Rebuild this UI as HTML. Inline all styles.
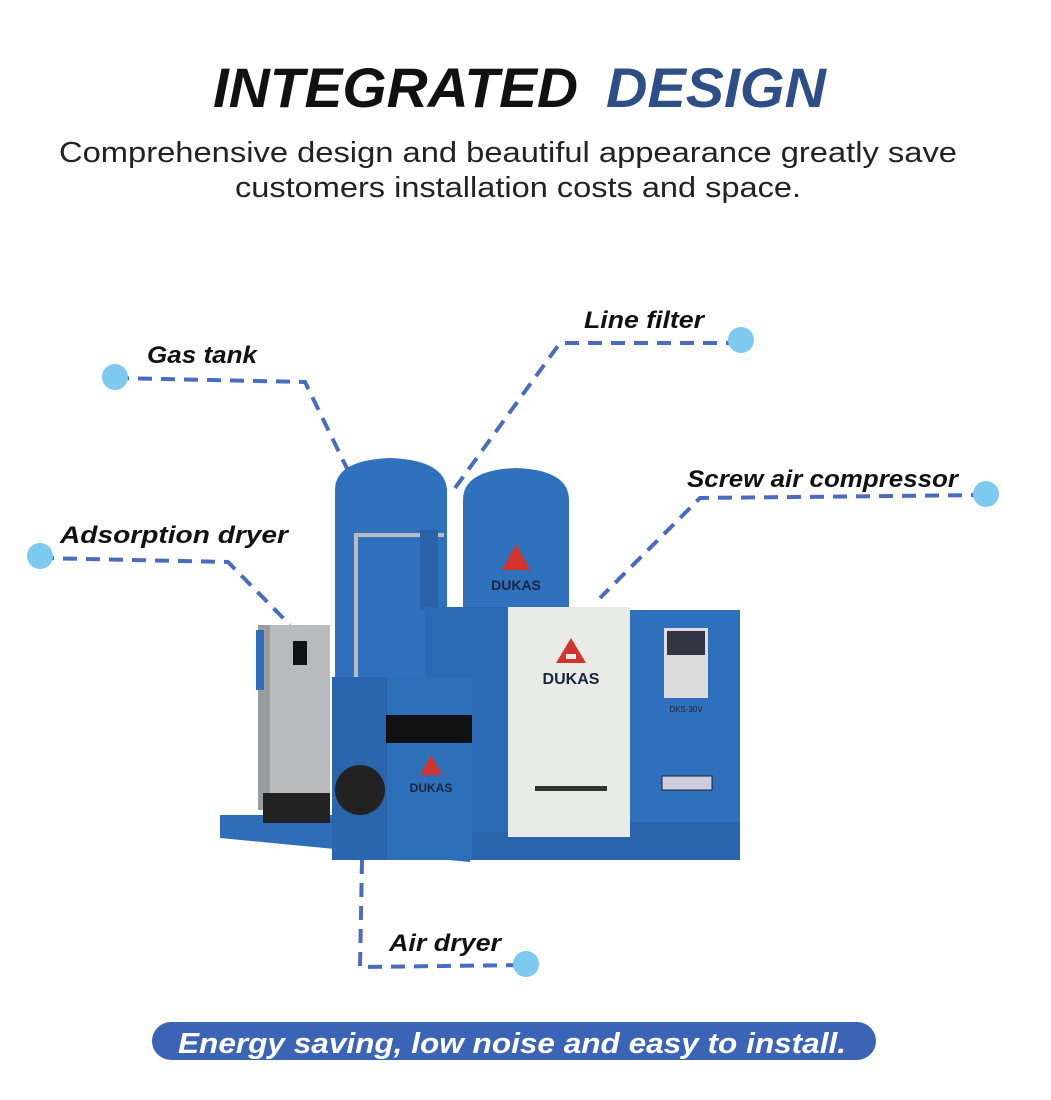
<!DOCTYPE html>
<html><head><meta charset="utf-8"><style>
html,body{margin:0;padding:0;background:#fff;}
svg{display:block;}
text{font-family:"Liberation Sans",sans-serif;}
</style></head><body>
<svg width="1051" height="1100" viewBox="0 0 1051 1100" xmlns="http://www.w3.org/2000/svg">
<rect width="1051" height="1100" fill="#fff"/>
<text x="213" y="107" font-size="56" font-weight="bold" font-style="italic" fill="#111" textLength="365" lengthAdjust="spacingAndGlyphs">INTEGRATED</text>
<text x="606" y="107" font-size="56" font-weight="bold" font-style="italic" fill="#2d4e86" textLength="220" lengthAdjust="spacingAndGlyphs">DESIGN</text>
<text x="508" y="162" font-size="29" fill="#222" text-anchor="middle" textLength="898" lengthAdjust="spacingAndGlyphs">Comprehensive design and beautiful appearance greatly save</text>
<text x="518" y="197" font-size="29" fill="#222" text-anchor="middle" textLength="566" lengthAdjust="spacingAndGlyphs">customers installation costs and space.</text>

<g stroke="#4a6cc0" stroke-width="4" stroke-dasharray="14,9" fill="none">
<polyline points="115,378 305,382 355,485"/>
<polyline points="740,343 560,343 450,495"/>
<polyline points="985,495 700,498 600,598"/>
<polyline points="40,558 228,562 290,625"/>
<polyline points="362,860 360,967 525,965"/>
</g>
<g fill="#7dc9f0">
<circle cx="115" cy="377" r="13"/>
<circle cx="741" cy="340" r="13"/>
<circle cx="986" cy="494" r="13"/>
<circle cx="40" cy="556" r="13"/>
<circle cx="526" cy="964" r="13"/>
</g>
<g font-size="24" font-weight="bold" font-style="italic" fill="#111">
<text x="147" y="363" textLength="110" lengthAdjust="spacingAndGlyphs">Gas tank</text>
<text x="584" y="328" textLength="120" lengthAdjust="spacingAndGlyphs">Line filter</text>
<text x="687" y="487" textLength="271" lengthAdjust="spacingAndGlyphs">Screw air compressor</text>
<text x="60" y="543" textLength="228" lengthAdjust="spacingAndGlyphs">Adsorption dryer</text>
<text x="389" y="951" textLength="112" lengthAdjust="spacingAndGlyphs">Air dryer</text>
</g>

<polygon points="220,815 470,815 470,862 220,838" fill="#2f6db8"/>
<rect x="470" y="820" width="270" height="40" fill="#2a64ad"/>
<rect x="660" y="810" width="80" height="30" fill="#2a64ad"/>
<path d="M335,490 Q335,460 390,458 Q445,460 447,490 L447,700 L335,700 Z" fill="#2f71bd"/>
<path d="M463,500 Q463,470 516,468 Q569,470 569,500 L569,620 L463,620 Z" fill="#2f71bd"/>
<rect x="354" y="535" width="4" height="150" fill="#bbb"/>
<rect x="354" y="533" width="90" height="4" fill="#bbb"/>
<rect x="420" y="530" width="18" height="80" fill="#2a62a8"/>
<polygon points="516,544 502,570 530,570" fill="#d0342c"/>
<text x="516" y="590" font-size="14" font-weight="bold" fill="#1a2540" text-anchor="middle">DUKAS</text>
<rect x="425" y="607" width="85" height="225" fill="#2c69b4"/>
<rect x="508" y="607" width="122" height="230" fill="#e9ebe6"/>
<rect x="630" y="610" width="110" height="212" fill="#2f70bc"/>
<rect x="664" y="628" width="44" height="70" fill="#ddd"/>
<rect x="667" y="631" width="38" height="24" fill="#334"/>
<text x="686" y="712" font-size="8" fill="#223" text-anchor="middle">DKS-30V</text>
<rect x="662" y="776" width="50" height="14" fill="#ccd" stroke="#223"/>
<polygon points="571,638 556,663 586,663" fill="#d0342c"/>
<rect x="566" y="654" width="10" height="5" fill="#e9ebe6"/>
<text x="571" y="684" font-size="16" font-weight="bold" fill="#1a2540" text-anchor="middle">DUKAS</text>
<rect x="535" y="786" width="72" height="5" fill="#333"/>
<rect x="258" y="625" width="72" height="185" fill="#b9babb"/>
<rect x="258" y="625" width="12" height="185" fill="#9a9b9c"/>
<rect x="293" y="641" width="14" height="24" fill="#111"/>
<rect x="263" y="793" width="67" height="30" fill="#222"/>
<rect x="256" y="630" width="8" height="60" fill="#2f6db8"/>
<rect x="332" y="677" width="140" height="183" fill="#2e6fba"/>
<rect x="332" y="677" width="55" height="183" fill="#2b65ae"/>
<rect x="386" y="715" width="86" height="28" fill="#111"/>
<circle cx="360" cy="790" r="25" fill="#222"/>
<polygon points="431,755 420,775 442,775" fill="#d0342c"/>
<text x="431" y="792" font-size="12" font-weight="bold" fill="#1a2540" text-anchor="middle">DUKAS</text>
<ellipse cx="390" cy="700" rx="1" ry="1" fill="#2f71bd"/>

<rect x="152" y="1022" width="724" height="38" rx="19" fill="#3b63b6"/>
<text x="512" y="1053" font-size="29" font-weight="bold" font-style="italic" fill="#fff" text-anchor="middle" textLength="668" lengthAdjust="spacingAndGlyphs">Energy saving, low noise and easy to install.</text>
</svg>
</body></html>
